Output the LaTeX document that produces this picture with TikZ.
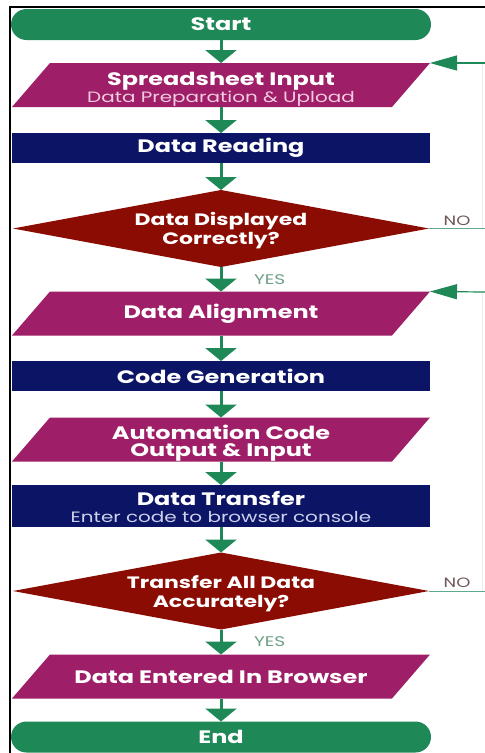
\documentclass[tikz,border=0pt]{standalone}
\usepackage{fontspec}
\setmainfont{Poppins}[FakeStretch=1.33]
\usetikzlibrary{arrows.meta}
\definecolor{flowgreen}{RGB}{30,136,86}
\definecolor{flowmagenta}{RGB}{158,30,104}
\definecolor{flownavy}{RGB}{12,20,102}
\definecolor{flowred}{RGB}{138,12,2}
\definecolor{subpink}{RGB}{242,204,224}
\definecolor{sublav}{RGB}{206,210,236}
\definecolor{nolinecol}{RGB}{96,168,142}
\definecolor{yescol}{RGB}{110,160,135}
\definecolor{nocol}{RGB}{110,88,88}
\newcommand\subfontcmd{\fontsize{15}{17}\selectfont}
% invisible strut that lowers a two-line block a little
\newcommand\topstrut[1]{\rule{0pt}{#1}}
\begin{document}
\begin{tikzpicture}[x=1pt,y=-1pt,
  every node/.style={inner sep=0pt, outer sep=0pt, align=center, text=white},
  titlefont/.style={font=\fontsize{18}{17}\selectfont\bfseries},
  askfont/.style={font=\fontsize{16.5}{19}\selectfont\bfseries},
  terminal/.style={rectangle, rounded corners=15.5pt, fill=flowgreen,
    minimum width=420pt, minimum height=31pt, titlefont},
  procbox/.style={rectangle, fill=flownavy, minimum width=418pt, titlefont},
  iobox/.style={rectangle, minimum width=418pt, minimum height=44pt, titlefont,
    path picture={\fill[flowmagenta]
      (path picture bounding box.south west)
      -- ([xshift=-38pt]path picture bounding box.south east)
      -- (path picture bounding box.north east)
      -- ([xshift=38pt]path picture bounding box.north west) -- cycle;}},
  decision/.style={rectangle, minimum width=416pt, minimum height=77pt, askfont,
    path picture={\fill[flowred]
      (path picture bounding box.west) -- (path picture bounding box.north)
      -- (path picture bounding box.east) -- (path picture bounding box.south) -- cycle;}},
  flow/.style={draw=flowgreen, line width=3pt, -{Triangle[width=31pt,length=13pt]}},
  back/.style={draw=flowgreen, line width=1.2pt, -{Triangle[width=15pt,length=27pt]}},
  noline/.style={draw=nolinecol, line width=1pt},
  faint/.style={draw=black!8, line width=1pt},
  yeslabel/.style={text=yescol, font=\fontsize{14}{16}\selectfont, anchor=west, xshift=33pt},
  nolabel/.style={text=nocol, font=\fontsize{13.5}{15}\selectfont, anchor=south, yshift=3pt},
]
\useasboundingbox (0,0) rectangle (485,753);
\fill[white] (0,0) rectangle (485,753);

% frame
\draw[black, line width=1.3pt] (10,753) -- (10,7) -- (485,7);

% flow steps
\node[terminal] (start) at (221,24.5) {Start};
\node[iobox] (spread) at (221,85) {\topstrut{21pt}Spreadsheet Input\\{\color{subpink}\mdseries\subfontcmd Data Preparation \& Upload}};
\node[procbox, minimum height=30pt] (read) at (221,148) {Data Reading};
\node[decision] (check1) at (221,228.5) {\topstrut{17pt}Data Displayed\\Correctly?};
\node[iobox] (align) at (221,313.5) {Data Alignment};
\node[procbox, minimum height=30pt] (codegen) at (221,376) {Code Generation};
\node[iobox] (auto) at (221,439.5) {\topstrut{21pt}Automation Code\\Output \& Input};
\node[procbox, minimum height=42pt] (transfer) at (221,506) {\topstrut{17pt}Data Transfer\\{\color{sublav}\mdseries\subfontcmd Enter code to browser console}};
\node[decision] (check2) at (221,591) {\topstrut{19pt}Transfer All Data\\Accurately?};
\node[iobox] (entered) at (221,676.5) {Data Entered In Browser};
\node[terminal] (end) at (221,737) {End};

% loop ends leaving the frame on the right
\coordinate (ret1) at (485,63);
\coordinate (no1) at (485,228.5);
\coordinate (ret2) at (485,292);
\coordinate (no2) at (485,591);

% main connectors
\draw[flow] (start.south) -- (spread.north);
\draw[flow] (spread.south) -- (read.north);
\draw[flow] (read.south) -- (check1.north);
\draw[flow] (check1.south) -- node[yeslabel] {YES} (align.north);
\draw[flow] (align.south) -- (codegen.north);
\draw[flow] (codegen.south) -- (auto.north);
\draw[flow] (auto.south) -- (transfer.north);
\draw[flow] (transfer.south) -- (check2.north);
\draw[flow] (check2.south) -- node[yeslabel] {YES} (entered.north);
\draw[flow] (entered.south) -- (end.north);

% NO branches and returns
\draw[faint] ([xshift=-3pt]ret1) -- ([xshift=-3pt]no1);
\draw[faint] ([xshift=-3pt]ret2) -- ([xshift=-3pt]no2);
\draw[noline] (check1.east) -- node[nolabel] {NO} (no1);
\draw[noline] (check2.east) -- node[nolabel] {NO} (no2);
\draw[back] (ret1) -- (spread.north east);
\draw[back] (ret2) -- (align.north east);
\end{tikzpicture}
\end{document}
